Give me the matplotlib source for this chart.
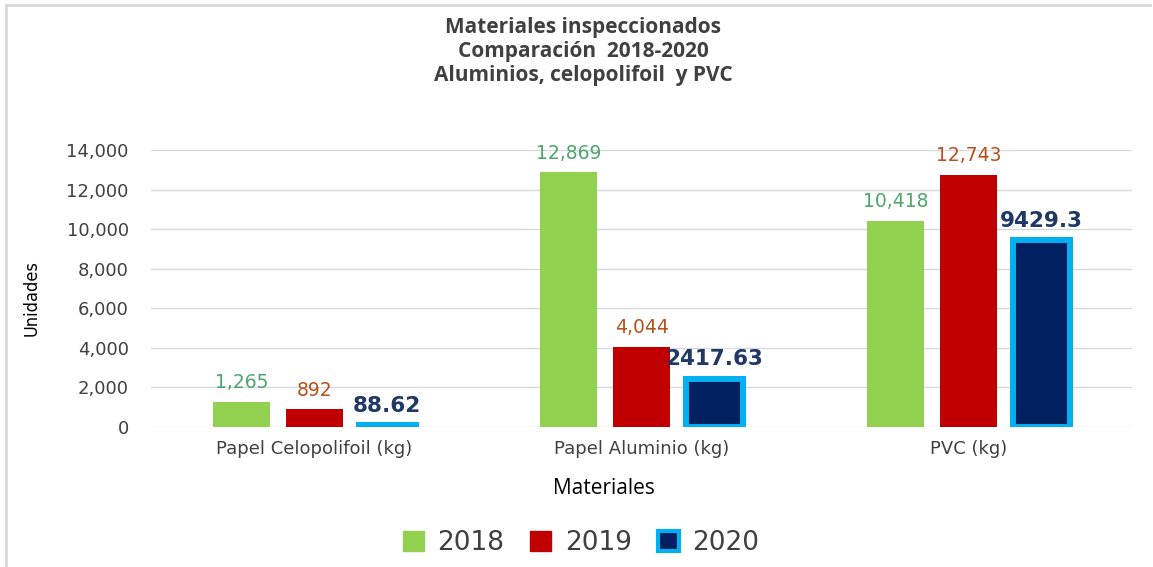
import numpy as np
import matplotlib
matplotlib.use("Agg")
import matplotlib.pyplot as plt
from matplotlib.patches import Patch
from matplotlib.lines import Line2D

# ---------- Data ----------
categories = ["Papel Celopolifoil (kg)", "Papel Aluminio (kg)", "PVC (kg)"]
years = ["2018", "2019", "2020"]
v2018 = [1265, 12869, 10418]
v2019 = [892, 4044, 12743]
v2020 = [88.62, 2417.63, 9429.3]
labels2018 = ["1,265", "12,869", "10,418"]
labels2019 = ["892", "4,044", "12,743"]
labels2020 = ["88.62", "2417.63", "9429.3"]
yticks = [0, 2000, 4000, 6000, 8000, 10000, 12000, 14000]

# ---------- Style ----------
GREEN, RED, NAVY, CYAN = "#92D050", "#C00000", "#002060", "#00B0F0"
TXT = "#404040"
plt.rcParams["font.family"] = ["DejaVu Sans"]

fig = plt.figure(figsize=(11.53, 5.67), dpi=100)
ax = fig.add_axes([151 / 1153, 140 / 567, 981 / 1153, 277 / 567])

x = np.arange(len(categories))
W, OFF = 0.174, 0.222

b18 = ax.bar(x - OFF, v2018, W, color=GREEN, zorder=3)
b19 = ax.bar(x, v2019, W, color=RED, zorder=3)
b20 = ax.bar(x + OFF, v2020, W, color=NAVY, edgecolor=CYAN, linewidth=4.3, zorder=3)

for bars, labs, col, fs, fw, off in [
    (b18, labels2018, "#4EA66D", 13.5, "normal", 7),
    (b19, labels2019, "#B5501E", 13.5, "normal", 7),
    (b20, labels2020, "#1F3864", 15.5, "bold", 7),
]:
    for rect, lab in zip(bars, labs):
        ax.annotate(lab, (rect.get_x() + rect.get_width() / 2, rect.get_height()),
                    xytext=(0, off), textcoords="offset points",
                    ha="center", va="bottom", fontsize=fs, color=col, fontweight=fw)

ax.set_xlim(-0.5, 2.5)
ax.set_ylim(0, 14000)
ax.set_yticks(yticks)
ax.set_yticklabels([f"{t:,}" for t in yticks], fontsize=13, color=TXT)
ax.set_xticks(x)
ax.set_xticklabels(categories, fontsize=13, color=TXT)
ax.tick_params(axis="both", length=0)
ax.tick_params(axis="y", pad=16)
ax.tick_params(axis="x", pad=9)
ax.grid(axis="y", color="#D9D9D9", linewidth=1, zorder=0)
for s in ax.spines.values():
    s.set_visible(False)

# axis titles
fig.text(604 / 1153, 1 - 488 / 567, "Materiales", ha="center", va="center",
         fontsize=15, color="black", family=["Open Sans", "DejaVu Sans"])
fig.text(32 / 1153, 1 - 298 / 567, "Unidades", ha="center", va="center", rotation=90,
         fontsize=13, color="black", fontstretch="condensed", family=["DejaVu Sans"])

# title
for i, line in enumerate(["Materiales inspeccionados", "Comparación  2018-2020",
                          "Aluminios, celopolifoil  y PVC"]):
    fig.text(583 / 1153, 1 - (28 + 24 * i) / 567, line, ha="center", va="center",
             fontsize=15, fontweight="bold", color=TXT, family=["Open Sans", "DejaVu Sans"])

# legend
handles = [
    Patch(facecolor=GREEN, edgecolor=GREEN, label="2018"),
    Patch(facecolor=RED, edgecolor=RED, label="2019"),
    Patch(facecolor=NAVY, edgecolor=CYAN, linewidth=3, label="2020"),
]
fig.legend(handles=handles, loc="center", bbox_to_anchor=(581 / 1153, 1 - 543 / 567),
           ncol=3, frameon=False, fontsize=19, handlelength=0.8, handleheight=0.8,
           handletextpad=0.5, columnspacing=1.0, labelcolor=TXT)

# chart border (top and left visible)
fig.add_artist(Line2D([6 / 1153, 1150 / 1153], [1 - 5 / 567, 1 - 5 / 567],
                      transform=fig.transFigure, color="#D9D9D9", linewidth=2))
fig.add_artist(Line2D([6 / 1153, 6 / 1153], [0, 1 - 5 / 567],
                      transform=fig.transFigure, color="#D9D9D9", linewidth=2))

fig.savefig("out.png", dpi=100, facecolor="white")
